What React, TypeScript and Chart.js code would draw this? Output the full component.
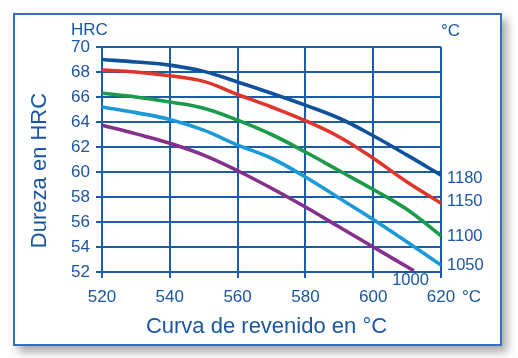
import React, { useEffect, useRef } from "react";
import { Chart, registerables } from "chart.js";

Chart.register(...registerables);

// ---- data ----
const temps = [520, 530, 540, 550, 560, 570, 580, 590, 600, 610, 620];
const hrc1180 = [69.0, 68.8, 68.55, 68.05, 67.2, 66.3, 65.35, 64.3, 62.9, 61.35, 59.75];
const hrc1150 = [68.15, 68.0, 67.7, 67.25, 66.2, 65.2, 64.1, 62.8, 61.1, 59.2, 57.5];
const hrc1100 = [66.3, 66.0, 65.6, 65.1, 64.15, 63.0, 61.6, 60.1, 58.6, 57.0, 54.9];
const hrc1050 = [65.2, 64.75, 64.2, 63.35, 62.15, 61.1, 59.6, 57.9, 56.2, 54.4, 52.55];
const temps1000 = [520, 530, 540, 550, 560, 570, 580, 590, 600, 612];
const hrc1000 = [63.75, 63.05, 62.3, 61.35, 60.1, 58.7, 57.2, 55.6, 54.0, 52.1];

const seriesNames = ["1180", "1150", "1100", "1050", "1000"];
const seriesColors = ["#10519c", "#e0352a", "#1b9a4a", "#1c9ad8", "#84308c"];
// label anchor (temperature, HRC) for each series name
const labelTemps = [620, 620, 620, 620, 611];
const labelHrc = [59.45, 57.65, 54.85, 52.55, 51.3];

const xTicks = [520, 540, 560, 580, 600, 620];
const yTicks = [52, 54, 56, 58, 60, 62, 64, 66, 68, 70];

const yTitle = "Dureza en HRC";
const xTitle = "Curva de revenido en °C";
const yUnit = "HRC";
const xUnit = "°C";

const FONT = '"Liberation Sans", Arial, Helvetica, sans-serif';
const TEXT = "#1a56a2";
const GRID = "#1c5ca6";

const toPts = (xs: number[], ys: number[]) => xs.map((x, i) => ({ x, y: ys[i] }));

const textPlugin = {
  id: "textPlugin",
  afterDraw(chart: any) {
    const { ctx, chartArea, scales } = chart;
    const xs = scales.x;
    const ys = scales.y;
    ctx.save();
    ctx.fillStyle = TEXT;
    ctx.textBaseline = "middle";
    // unit labels
    ctx.font = `17px ${FONT}`;
    ctx.textAlign = "left";
    ctx.fillText(yUnit, chartArea.left - 31, chartArea.top - 16.5);
    ctx.fillText(xUnit, chartArea.right, chartArea.top - 16);
    ctx.fillText(xUnit, chartArea.right + 21, chartArea.bottom + 25);
    // series labels
    ctx.font = `16.5px ${FONT}`;
    seriesNames.forEach((name, i) => {
      const px = xs.getPixelForValue(labelTemps[i]);
      const py = ys.getPixelForValue(labelHrc[i]);
      if (i === 4) {
        ctx.textAlign = "center";
        ctx.fillText(name, px, py);
      } else {
        ctx.textAlign = "left";
        ctx.fillText(name, px + 6, py);
      }
    });
    // axis titles
    ctx.font = `22px ${FONT}`;
    ctx.textAlign = "center";
    ctx.fillText(xTitle, (chartArea.left + chartArea.right) / 2 - 5, chartArea.bottom + 55);
    ctx.translate(chartArea.left - 62, (chartArea.top + chartArea.bottom) / 2 + 11);
    ctx.rotate(-Math.PI / 2);
    ctx.fillText(yTitle, 0, 0);
    ctx.restore();
  },
};

export default function App() {
  const ref = useRef<HTMLCanvasElement>(null);
  useEffect(() => {
    if (!ref.current) return;
    const all = [hrc1180, hrc1150, hrc1100, hrc1050];
    const datasets: any[] = all.map((arr, i) => ({
      label: seriesNames[i],
      data: toPts(temps, arr),
      borderColor: seriesColors[i],
      borderWidth: 3.6,
      pointRadius: 0,
      tension: 0.4,
      fill: false,
    }));
    datasets.push({
      label: seriesNames[4],
      data: toPts(temps1000, hrc1000),
      borderColor: seriesColors[4],
      borderWidth: 3.6,
      pointRadius: 0,
      tension: 0.4,
      fill: false,
    });
    const chart = new Chart(ref.current, {
      type: "line",
      data: { datasets },
      plugins: [textPlugin],
      options: {
        animation: false,
        responsive: false,
        devicePixelRatio: 1,
        layout: { padding: { top: 47, right: 77, left: 0, bottom: 0 } },
        plugins: { legend: { display: false }, tooltip: { enabled: false } },
        scales: {
          x: {
            type: "linear",
            min: 520,
            max: 620,
            afterBuildTicks: (s: any) => {
              s.ticks = xTicks.map((v) => ({ value: v }));
            },
            afterFit: (s: any) => {
              s.height = 86;
            },
            ticks: { color: TEXT, font: { family: FONT, size: 17 }, padding: 9, maxRotation: 0 },
            grid: { color: GRID, lineWidth: 2, tickLength: 6, drawTicks: true },
            border: { color: GRID, width: 2 },
          },
          y: {
            type: "linear",
            min: 52,
            max: 70,
            afterBuildTicks: (s: any) => {
              s.ticks = yTicks.map((v) => ({ value: v }));
            },
            afterFit: (s: any) => {
              s.width = 102;
            },
            ticks: { color: TEXT, font: { family: FONT, size: 17 }, padding: 6 },
            grid: { color: GRID, lineWidth: 2, tickLength: 6, drawTicks: true },
            border: { color: GRID, width: 2 },
          },
        },
      },
    });
    return () => chart.destroy();
  }, []);

  return (
    <div style={{ position: "fixed", left: 0, top: 0, width: 518, height: 358, background: "#fff" }}>
      <div
        style={{
          position: "absolute",
          left: 13,
          top: 13,
          width: 485,
          height: 329,
          border: "2px solid #3a6fb5",
          boxShadow: "5px 6px 9px rgba(0,0,0,0.35)",
          background: "#fff",
        }}
      />
      <canvas ref={ref} width={518} height={358} style={{ position: "absolute", left: 0, top: 0 }} />
    </div>
  );
}
